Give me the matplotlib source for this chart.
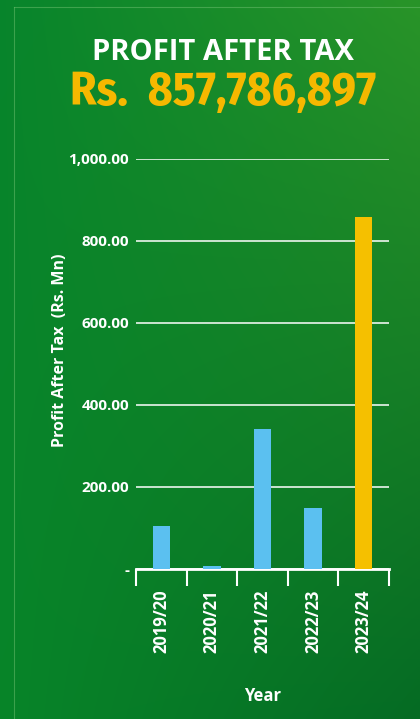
import numpy as np
import matplotlib.pyplot as plt
from matplotlib.lines import Line2D

years = ['2019/20', '2020/21', '2021/22', '2022/23', '2023/24']
profit = [105, 7, 341, 149, 857.79]
bar_colors = ['#5bc0f0', '#5bc0f0', '#5bc0f0', '#5bc0f0', '#f5c000']
y_ticks = [0, 200, 400, 600, 800, 1000]
y_tick_labels = ['-', '200.00', '400.00', '600.00', '800.00', '1,000.00']

fig = plt.figure(figsize=(4.2, 7.19), dpi=100)

# background: soft green gradient
bg = fig.add_axes([0, 0, 1, 1])
corners = np.array([
    [[0.03, 0.52, 0.17], [0.16, 0.58, 0.16]],   # top-left, top-right
    [[0.03, 0.52, 0.16], [0.02, 0.42, 0.14]],   # bottom-left, bottom-right
])
gy, gx = np.mgrid[0:1:200j, 0:1:120j]
img = ((1 - gy)[..., None] * ((1 - gx)[..., None] * corners[0, 0] + gx[..., None] * corners[0, 1])
       + gy[..., None] * ((1 - gx)[..., None] * corners[1, 0] + gx[..., None] * corners[1, 1]))
bg.imshow(img, aspect='auto', extent=[0, 1, 0, 1], interpolation='bicubic')
bg.set_axis_off()
fig.add_artist(Line2D([14 / 420, 1], [1 - 7 / 719, 1 - 7 / 719], color='#6fc070', lw=0.8, alpha=0.5))
fig.add_artist(Line2D([14 / 420, 14 / 420], [0, 1 - 7 / 719], color='#6fc070', lw=0.8, alpha=0.5))

fig.text(0.53, 1 - 52 / 719, 'PROFIT AFTER TAX', ha='center', va='center', color='white',
         fontsize=21, fontweight='bold', family='Open Sans')
fig.text(223 / 420, 1 - 93 / 719, 'Rs.  857,786,897', ha='center', va='center', color='#f5b800',
         fontsize=34, fontweight='bold', family=['Fira Sans Condensed', 'DejaVu Sans'])

ax = fig.add_axes([136 / 420, 1 - 569 / 719, 253 / 420, 410 / 719])
ax.patch.set_alpha(0)
x = np.arange(len(years))
ax.bar(x, profit, width=0.34, color=bar_colors, zorder=3)
ax.set_xlim(-0.5, len(years) - 0.5)
ax.set_ylim(0, 1000)

ax.set_yticks(y_ticks)
ax.set_yticklabels(y_tick_labels)
ax.grid(axis='y', color='white', lw=1.1, zorder=0)
ax.tick_params(axis='y', length=0, pad=5, labelcolor='white', labelsize=11)
ax.set_xticks(x)
ax.set_xticklabels(years, rotation=90)
ax.tick_params(axis='x', length=0, pad=15, labelcolor='white', labelsize=12)
for lab in ax.get_xticklabels() + ax.get_yticklabels():
    lab.set_fontweight('bold')
    lab.set_family('Open Sans')

# category boundary ticks below the axis
ax.set_xticks(np.arange(-0.5, len(years)), minor=True)
ax.tick_params(axis='x', which='minor', length=12, width=1.5, color='white', direction='out')

for side in ['top', 'right', 'left']:
    ax.spines[side].set_visible(False)
ax.spines['bottom'].set_color('white')
ax.spines['bottom'].set_linewidth(2)

ax.set_ylabel('Profit After Tax  (Rs. Mn)', color='white', fontsize=11.5, fontweight='bold',
              family='Open Sans')
ax.yaxis.set_label_coords(-0.268, 0.534)
ax.set_xlabel('Year', color='white', fontsize=12, fontweight='bold', family='Open Sans')
ax.xaxis.set_label_coords(0.5, -0.287)

fig.savefig('out.png', dpi=100)
